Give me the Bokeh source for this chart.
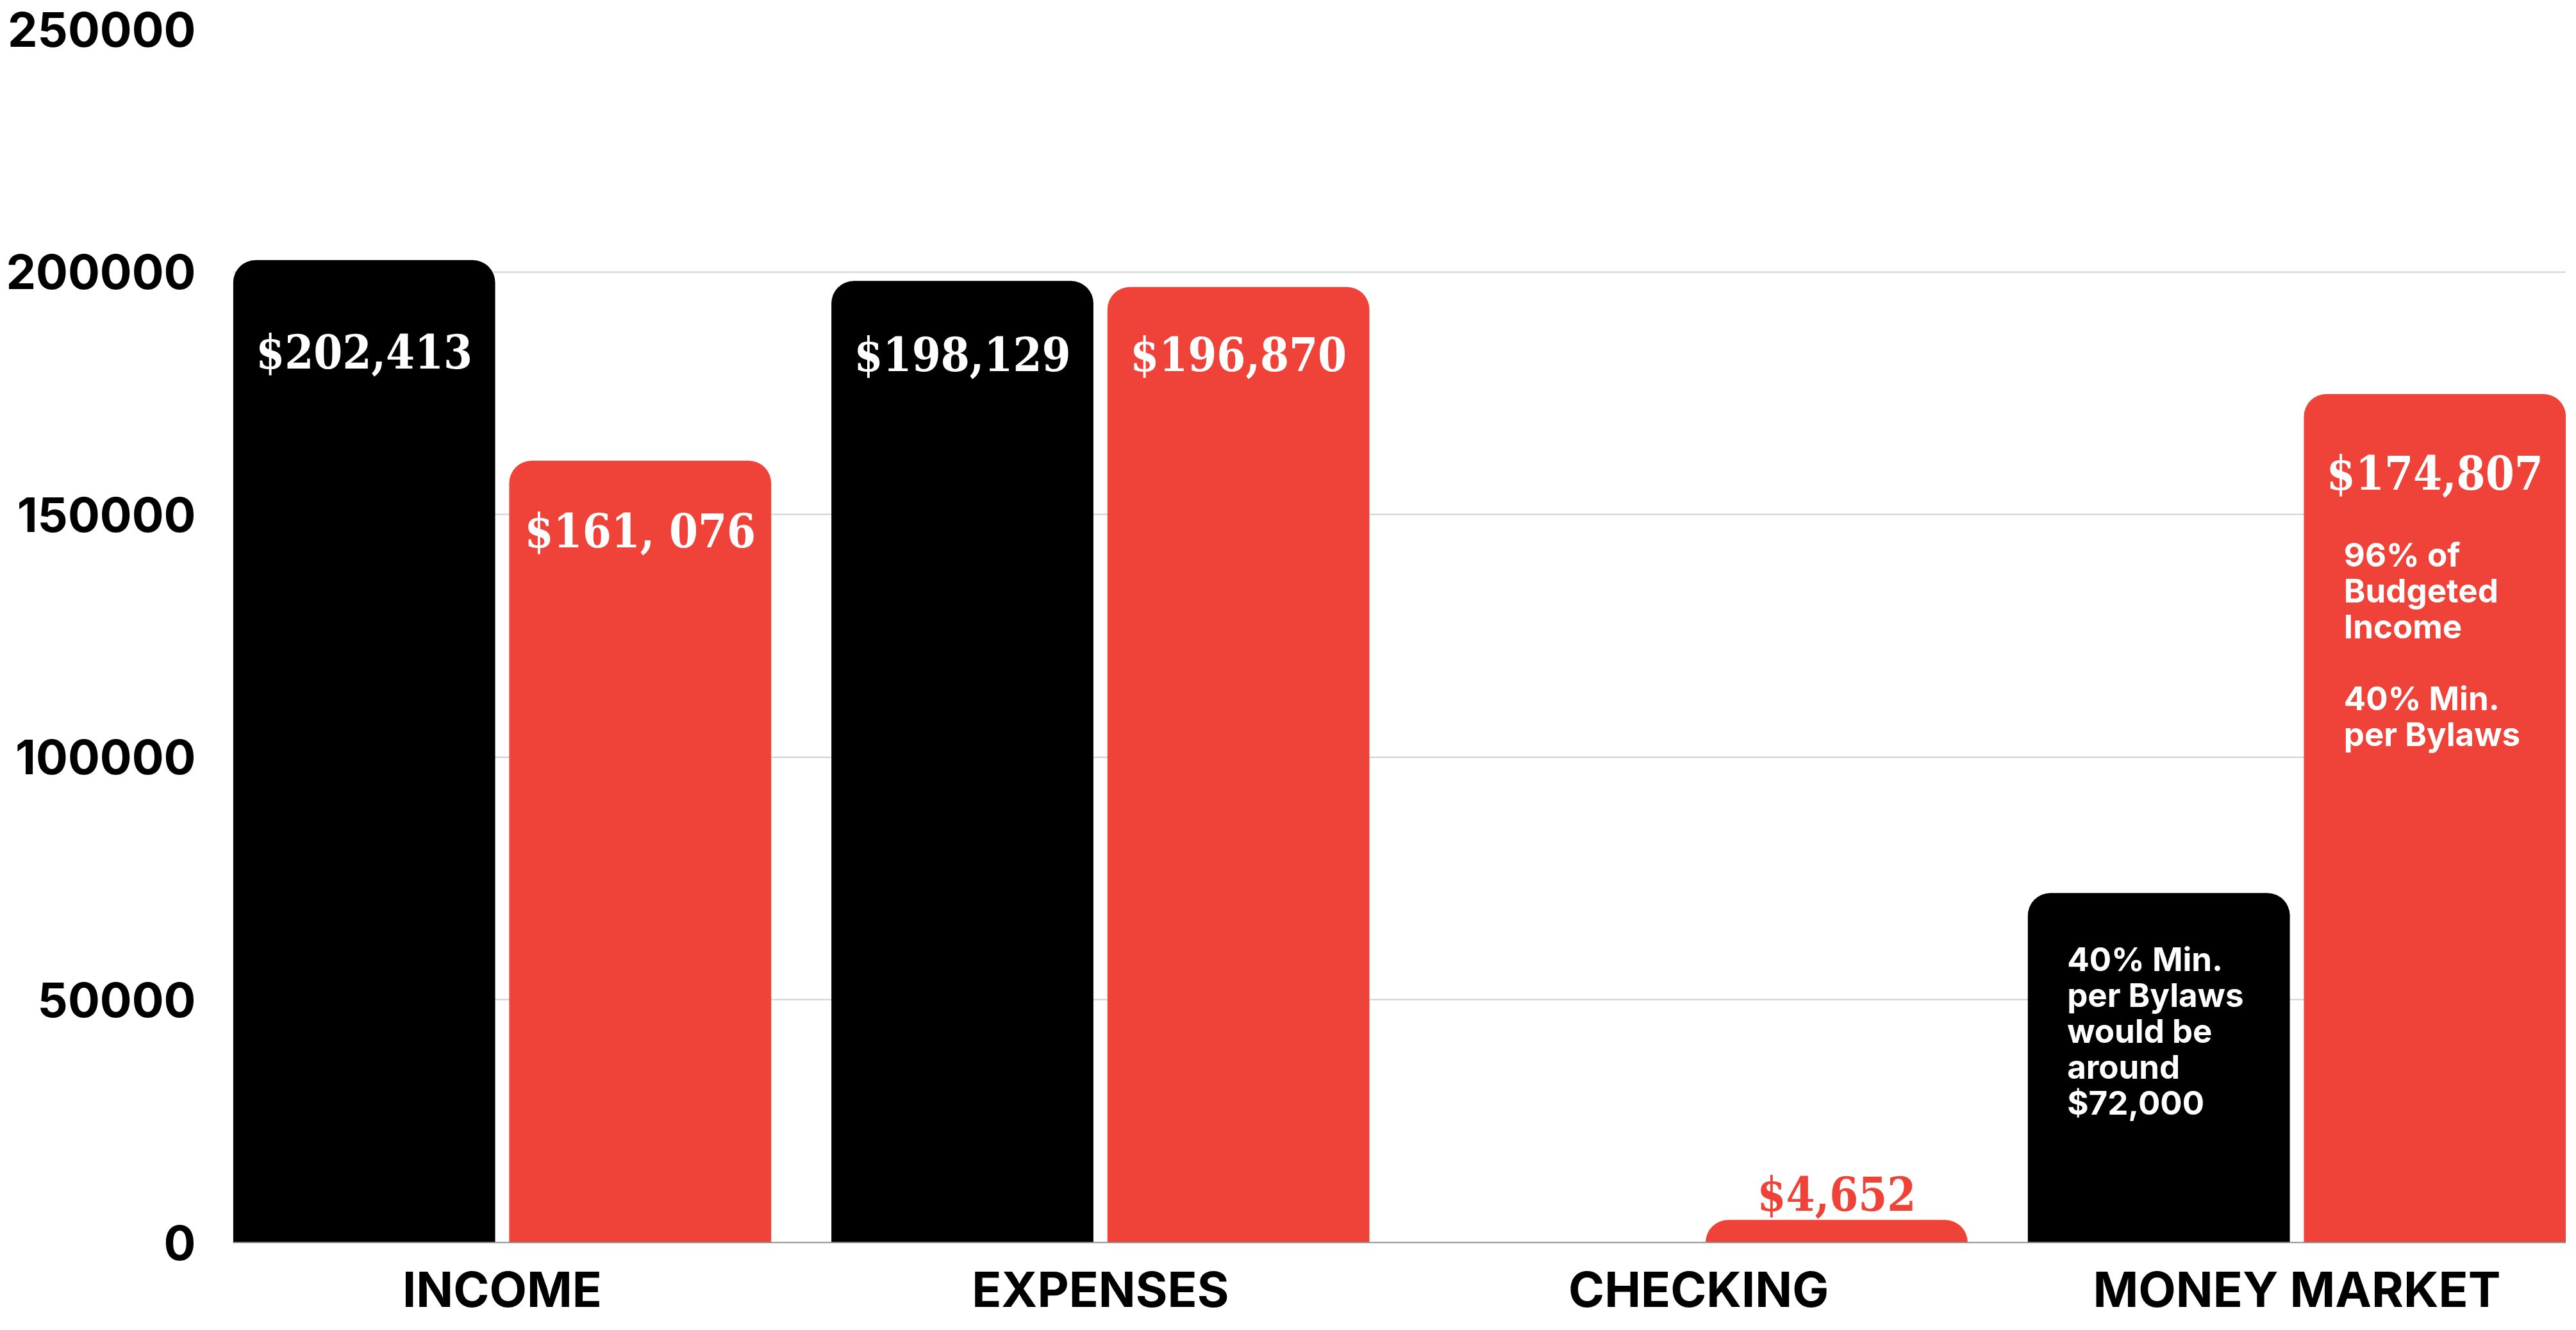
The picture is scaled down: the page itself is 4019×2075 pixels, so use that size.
from bokeh.plotting import figure
from bokeh.models import ColumnDataSource, Range1d, FixedTicker, NumeralTickFormatter
from bokeh.core.properties import value
from bokeh.embed import file_html
from bokeh.resources import INLINE

# ---- data ----
categories = ["INCOME", "EXPENSES", "CHECKING", "MONEY MARKET"]
series_black = [202413, 198129, 0, 72000]
series_red = [161076, 196870, 4652, 174807]
labels_black = ["$202,413", "$198,129", "", ""]
labels_red = ["$161, 076", "$196,870", "$4,652", "$174,807"]
y_ticks = [0, 50000, 100000, 150000, 200000, 250000]
note_black = "40% Min.\nper Bylaws\nwould be\naround\n$72,000"
note_red = "96% of\nBudgeted\nIncome\n\n40% Min.\nper Bylaws"

# ---- styles ----
BLACK = "#000000"
RED = "#EF4339"
BAR_W = 0.438
DODGE = 0.2307
SANS = "Inter"
SLAB = "DejaVu Serif Condensed, DejaVu Serif"
# pixel offsets of the value labels below the bar top
off_black = [144, 115, 0, 0]
off_red = [110, 106, -40, 124]
col_red_labels = ["white", "white", RED, "white"]

pos = [i + 1 for i in range(len(categories))]
x_black = [c - DODGE for c in pos]
x_red = [c + DODGE for c in pos]

p = figure(width=4003, height=2059,
           x_range=Range1d(0.55, len(categories) + 0.45),
           y_range=Range1d(0, 250000),
           output_backend="svg", toolbar_location=None,
           min_border_left=363, min_border_right=0,
           min_border_top=45, min_border_bottom=0)
p.outline_line_color = None
p.background_fill_color = "white"
p.border_fill_color = "white"

src_b = ColumnDataSource(dict(x=x_black, top=series_black, label=labels_black, off=off_black))
src_r = ColumnDataSource(dict(x=x_red, top=series_red, label=labels_red, off=off_red,
                              col=col_red_labels))

p.vbar(x="x", top="top", bottom=0, width=BAR_W, source=src_b,
       fill_color=BLACK, line_color=None, border_radius=(35, 35, 0, 0))
p.vbar(x="x", top="top", bottom=0, width=BAR_W, source=src_r,
       fill_color=RED, line_color=None, border_radius=(35, 35, 0, 0))

p.text(x="x", y="top", text="label", y_offset="off", source=src_b,
       text_color="white", text_font=value(SLAB), text_font_style="bold",
       text_font_size="72px", text_align="center", text_baseline="alphabetic")
p.text(x="x", y="top", text="label", y_offset="off", source=src_r,
       text_color="col", text_font=value(SLAB), text_font_style="bold",
       text_font_size="72px", text_align="center", text_baseline="alphabetic")

# notes on the money-market bars
mm = len(categories) - 1
p.text(x=[x_black[mm]], y=[series_black[mm]], text=[note_black],
       x_offset=-143, y_offset=73, text_color="white", text_font=value(SANS),
       text_font_style="bold", text_font_size="51px", text_align="left",
       text_baseline="top", text_line_height=0.917)
p.text(x=[x_red[mm]], y=[series_red[mm]], text=[note_red],
       x_offset=-142, y_offset=220, text_color="white", text_font=value(SANS),
       text_font_style="bold", text_font_size="51px", text_align="left",
       text_baseline="top", text_line_height=0.917)

# axes
p.xaxis.ticker = FixedTicker(ticks=pos)
p.xaxis.major_label_overrides = {c: n for c, n in zip(pos, categories)}
p.xaxis.major_label_text_font = SANS
p.xaxis.major_label_text_font_style = "bold"
p.xaxis.major_label_text_font_size = "76px"
p.xaxis.major_label_text_color = "black"
p.xaxis.major_label_standoff = 26
p.xaxis.major_tick_out = 0
p.xaxis.major_tick_in = 0
p.xaxis.major_tick_line_color = None
p.xaxis.minor_tick_line_color = None
p.xaxis.axis_line_color = "#8c8c8c"
p.xaxis.axis_line_width = 2

p.yaxis.ticker = FixedTicker(ticks=y_ticks)
p.yaxis.formatter = NumeralTickFormatter(format="0")
p.yaxis.major_label_text_font = SANS
p.yaxis.major_label_text_font_style = "bold"
p.yaxis.major_label_text_font_size = "74px"
p.yaxis.major_label_text_color = "black"
p.yaxis.major_label_standoff = 58
p.yaxis.major_tick_out = 0
p.yaxis.major_tick_in = 0
p.yaxis.major_tick_line_color = None
p.yaxis.minor_tick_line_color = None
p.yaxis.axis_line_color = None

p.xgrid.visible = False
p.ygrid.grid_line_color = "#d0d0d0"
p.ygrid.grid_line_width = 2

open("out.html", "w").write(file_html(p, INLINE))
